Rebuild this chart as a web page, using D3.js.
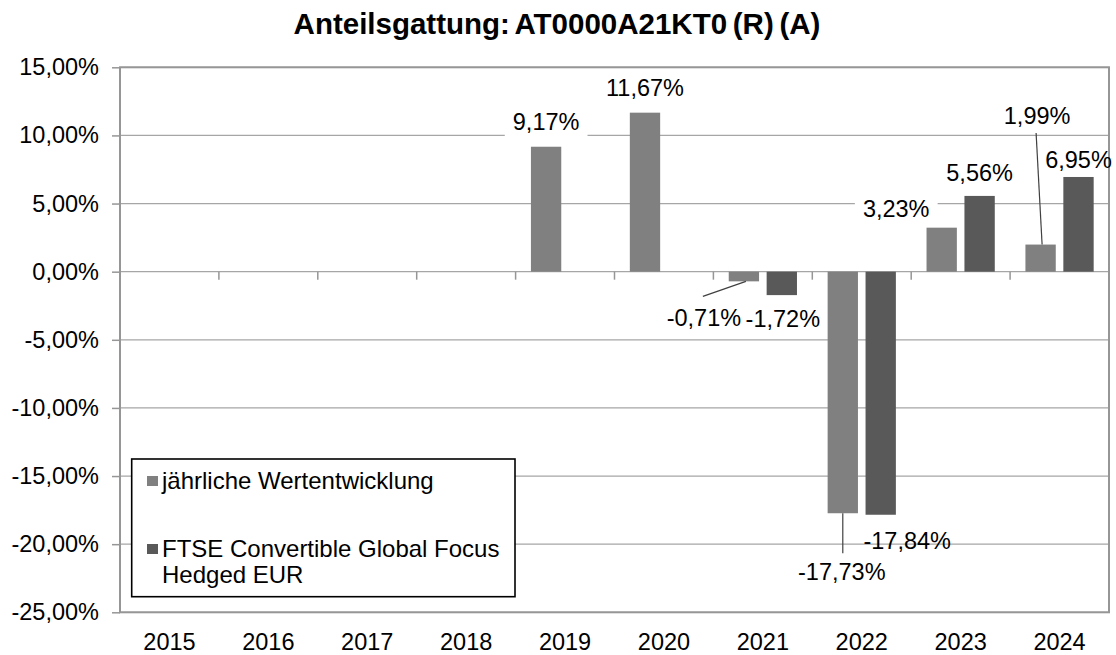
<!DOCTYPE html>
<html>
<head>
<meta charset="utf-8">
<script src="https://cdn.jsdelivr.net/npm/d3@7"></script>
<style>
body{margin:0;background:#fff;}
svg{display:block;font-family:"Liberation Sans",Arial,sans-serif;}
</style>
</head>
<body>
<svg id="chart"></svg>
<script>
var width=1116;
var height=655;

var years=['2015','2016','2017','2018','2019','2020','2021','2022','2023','2024'];
var fundValues=[null,null,null,null,9.17,11.67,-0.71,-17.73,3.23,1.99];
var benchValues=[null,null,null,null,null,null,-1.72,-17.84,5.56,6.95];
var seriesNames=['jährliche Wertentwicklung','FTSE Convertible Global Focus Hedged EUR'];
var yTicks=[-25,-20,-15,-10,-5,0,5,10,15];
var title='Anteilsgattung: AT0000A21KT0 (R) (A)';

var plot={left:120,right:1109,top:67.3,bottom:612.3};
var colors=['#808080','#595959'];
var fontSize=23.5;

// where each data label sits, relative to the end of its bar (px)
var labelLayout={
	'0-2019':{dx:0,dy:-25,box:true},
	'0-2020':{dx:0,dy:-24.5},
	'0-2021':{dx:-40,dy:36,leader:[2,0,-41,15]},
	'1-2021':{dx:1,dy:24},
	'0-2022':{dx:-1,dy:59,leader:[0,0,0,40]},
	'1-2022':{dx:26.5,dy:26},
	'0-2023':{dx:-45.5,dy:-19,box:true},
	'1-2023':{dx:0,dy:-23.5},
	'0-2024':{dx:-3.5,dy:-128.5,leader:[1.5,0,-4.5,-111.5]},
	'1-2024':{dx:0,dy:-17}
};

var de=d3.formatLocale({decimal:',',thousands:'.',grouping:[3],currency:['','€'],minus:'-'});
var num=de.format('.2f');
function pct(v){ return num(v)+'%'; }

var rows=[];
[fundValues,benchValues].forEach(function(vals,s){
	vals.forEach(function(v,i){
		if (v!==null) rows.push({s:s,year:years[i],value:v});
	});
});

var svg=d3.select('#chart')
	.attr('width',width)
	.attr('height',height);

var x0=d3.scaleBand()
	.domain(years)
	.range([plot.left,plot.right]);

var x1=d3.scaleBand()
	.domain([0,1])
	.range([x0.bandwidth()*0.155,x0.bandwidth()*0.845])
	.paddingInner(0.2);

var y=d3.scaleLinear()
	.domain([-25,15])
	.range([plot.bottom,plot.top]);

// gridlines
svg.append('g')
	.selectAll('line')
	.data(yTicks)
	.enter()
	.append('line')
		.attr('x1',plot.left)
		.attr('x2',plot.right)
		.attr('y1',d=>y(d))
		.attr('y2',d=>y(d))
		.attr('stroke','#a6a6a6')
		.attr('stroke-width',1.3);

// category tick marks on the zero line
svg.append('g')
	.selectAll('line')
	.data(years.slice(1).map(d=>x0(d)).concat([plot.right]))
	.enter()
	.append('line')
		.attr('x1',d=>d)
		.attr('x2',d=>d)
		.attr('y1',y(0))
		.attr('y2',y(0)+8)
		.attr('stroke','#969696')
		.attr('stroke-width',1.5);

// bars
svg.append('g')
	.selectAll('rect')
	.data(rows)
	.enter()
	.append('rect')
		.attr('x',d=>x0(d.year)+x1(d.s))
		.attr('width',x1.bandwidth())
		.attr('y',d=>y(Math.max(0,d.value)))
		.attr('height',d=>Math.abs(y(d.value)-y(0)))
		.attr('fill',d=>colors[d.s]);

// plot frame
svg.append('rect')
	.attr('x',plot.left)
	.attr('y',plot.top)
	.attr('width',plot.right-plot.left)
	.attr('height',plot.bottom-plot.top)
	.attr('fill','none')
	.attr('stroke','#969696')
	.attr('stroke-width',2);

// y axis
var yAxis=d3.axisLeft(y)
	.tickValues(yTicks)
	.tickSize(8)
	.tickPadding(13)
	.tickFormat(pct);

var gy=svg.append('g')
	.attr('transform','translate('+plot.left+',0)')
	.call(yAxis);
gy.select('.domain').remove();
gy.selectAll('line').attr('stroke','#969696').attr('stroke-width',1.5);
gy.selectAll('text').attr('font-size',fontSize).attr('fill','#000').style('font-family','"Liberation Sans",Arial,sans-serif');

// x axis labels
var xAxis=d3.axisBottom(x0)
	.tickSize(0)
	.tickPadding(21);

var gx=svg.append('g')
	.attr('transform','translate(0,'+plot.bottom+')')
	.call(xAxis);
gx.select('.domain').remove();
gx.selectAll('text').attr('font-size',fontSize).attr('fill','#000').style('font-family','"Liberation Sans",Arial,sans-serif');

// data labels
function anchorX(d){ return x0(d.year)+x1(d.s)+x1.bandwidth()/2; }
function lay(d){ return labelLayout[d.s+'-'+d.year]; }

svg.append('g')
	.selectAll('line')
	.data(rows.filter(d=>lay(d).leader))
	.enter()
	.append('line')
		.attr('x1',d=>anchorX(d)+lay(d).leader[0])
		.attr('y1',d=>y(d.value)+lay(d).leader[1])
		.attr('x2',d=>anchorX(d)+lay(d).leader[2])
		.attr('y2',d=>y(d.value)+lay(d).leader[3])
		.attr('stroke','#404040')
		.attr('stroke-width',1.2);

var labels=svg.append('g')
	.selectAll('g')
	.data(rows)
	.enter()
	.append('g')
		.attr('transform',d=>'translate('+(anchorX(d)+lay(d).dx)+','+(y(d.value)+lay(d).dy)+')');

labels.append('text')
	.attr('text-anchor','middle')
	.attr('dy','0.35em')
	.attr('font-size',fontSize)
	.attr('fill','#000')
	.text(d=>pct(d.value));

labels.filter(d=>lay(d).box).each(function(){
	var g=d3.select(this);
	var b=g.select('text').node().getBBox();
	g.insert('rect','text')
		.attr('x',b.x-8)
		.attr('y',b.y-4)
		.attr('width',b.width+16)
		.attr('height',b.height+8)
		.attr('fill','#fff');
});

// legend
var legend=svg.append('g');
legend.append('rect')
	.attr('x',131.7)
	.attr('y',459)
	.attr('width',383.3)
	.attr('height',137.7)
	.attr('fill','#fff')
	.attr('stroke','#000')
	.attr('stroke-width',1.6);

var legendLines=[[seriesNames[0]],['FTSE Convertible Global Focus','Hedged EUR']];
var legendY=[481,549];

legendLines.forEach(function(lines,i){
	legend.append('rect')
		.attr('x',147)
		.attr('y',legendY[i]-5)
		.attr('width',11)
		.attr('height',10)
		.attr('fill',colors[i]);
	legend.append('text')
		.attr('x',162)
		.attr('y',legendY[i]+7.5)
		.attr('font-size',24)
		.attr('fill','#000')
		.selectAll('tspan')
		.data(lines)
		.enter()
		.append('tspan')
			.attr('x',162)
			.attr('dy',(d,k)=>k===0?0:26.5)
			.text(d=>d);
});

// title
svg.append('text')
	.attr('x',557)
	.attr('y',34)
	.attr('text-anchor','middle')
	.attr('font-size',29.5)
	.attr('font-weight','bold')
	.attr('word-spacing',-2.5)
	.attr('fill','#000')
	.text(title);
</script>
</body>
</html>
